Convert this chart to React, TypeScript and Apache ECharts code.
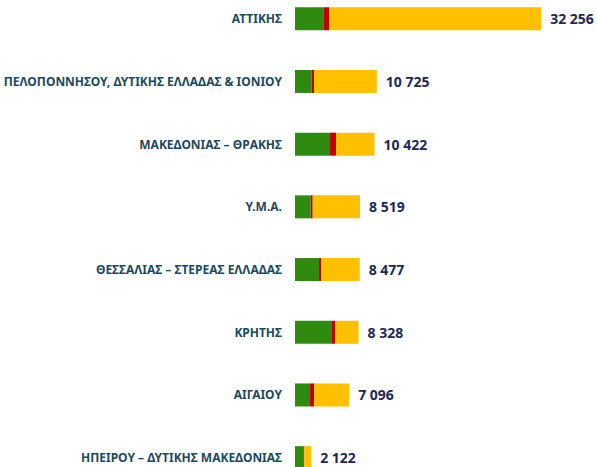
import React, { useEffect, useRef } from "react";
import * as echarts from "echarts";

const categories = [
  "ΑΤΤΙΚΗΣ",
  "ΠΕΛΟΠΟΝΝΗΣΟΥ, ΔΥΤΙΚΗΣ ΕΛΛΑΔΑΣ & ΙΟΝΙΟΥ",
  "ΜΑΚΕΔΟΝΙΑΣ – ΘΡΑΚΗΣ",
  "Υ.Μ.Α.",
  "ΘΕΣΣΑΛΙΑΣ – ΣΤΕΡΕΑΣ ΕΛΛΑΔΑΣ",
  "ΚΡΗΤΗΣ",
  "ΑΙΓΑΙΟΥ",
  "ΗΠΕΙΡΟΥ – ΔΥΤΙΚΗΣ ΜΑΚΕΔΟΝΙΑΣ",
];
const greenValues = [3710, 2190, 4590, 2060, 3150, 4850, 1970, 1090];
const redValues = [790, 300, 790, 260, 260, 390, 560, 130];
const yellowValues = [27756, 8235, 5042, 6199, 5067, 3088, 4566, 902];

const fmt = (n: number) => String(n).replace(/\B(?=(\d{3})+(?!\d))/g, " ");

export default function App() {
  const ref = useRef<HTMLDivElement>(null);
  useEffect(() => {
    if (!ref.current) return;
    const chart = echarts.init(ref.current, null, { renderer: "svg" });
    const totals = categories.map((_, i) => greenValues[i] + redValues[i] + yellowValues[i]);
    chart.setOption({
      animation: false,
      grid: { left: 295, right: 12, top: 0.4, bottom: 0, containLabel: false },
      xAxis: {
        type: "value",
        min: 0,
        max: 38000,
        show: false,
        splitLine: { show: false },
      },
      yAxis: {
        type: "category",
        data: categories,
        inverse: true,
        axisLine: { show: false },
        axisTick: { show: false },
        axisLabel: {
          margin: 13,
          fontFamily: "Noto Sans",
          fontWeight: "bold",
          fontSize: 12,
          color: "#1b4a5c",
        },
      },
      series: [
        {
          type: "bar",
          stack: "t",
          data: greenValues,
          barWidth: 23,
          itemStyle: { color: "#2e8b10" },
        },
        {
          type: "bar",
          stack: "t",
          data: redValues,
          barWidth: 23,
          itemStyle: { color: "#c00000" },
        },
        {
          type: "bar",
          stack: "t",
          data: yellowValues,
          barWidth: 23,
          itemStyle: { color: "#ffc000" },
          label: {
            show: true,
            position: "right",
            distance: 9,
            fontFamily: "Noto Sans",
            fontWeight: "bold",
            fontSize: 14,
            color: "#1c2a52",
            formatter: (p: any) => fmt(totals[p.dataIndex]),
          },
        },
      ],
    });
    return () => chart.dispose();
  }, []);
  return (
    <div
      ref={ref}
      style={{ position: "fixed", left: 0, top: -13, width: 597, height: 502, background: "#fff" }}
    />
  );
}
